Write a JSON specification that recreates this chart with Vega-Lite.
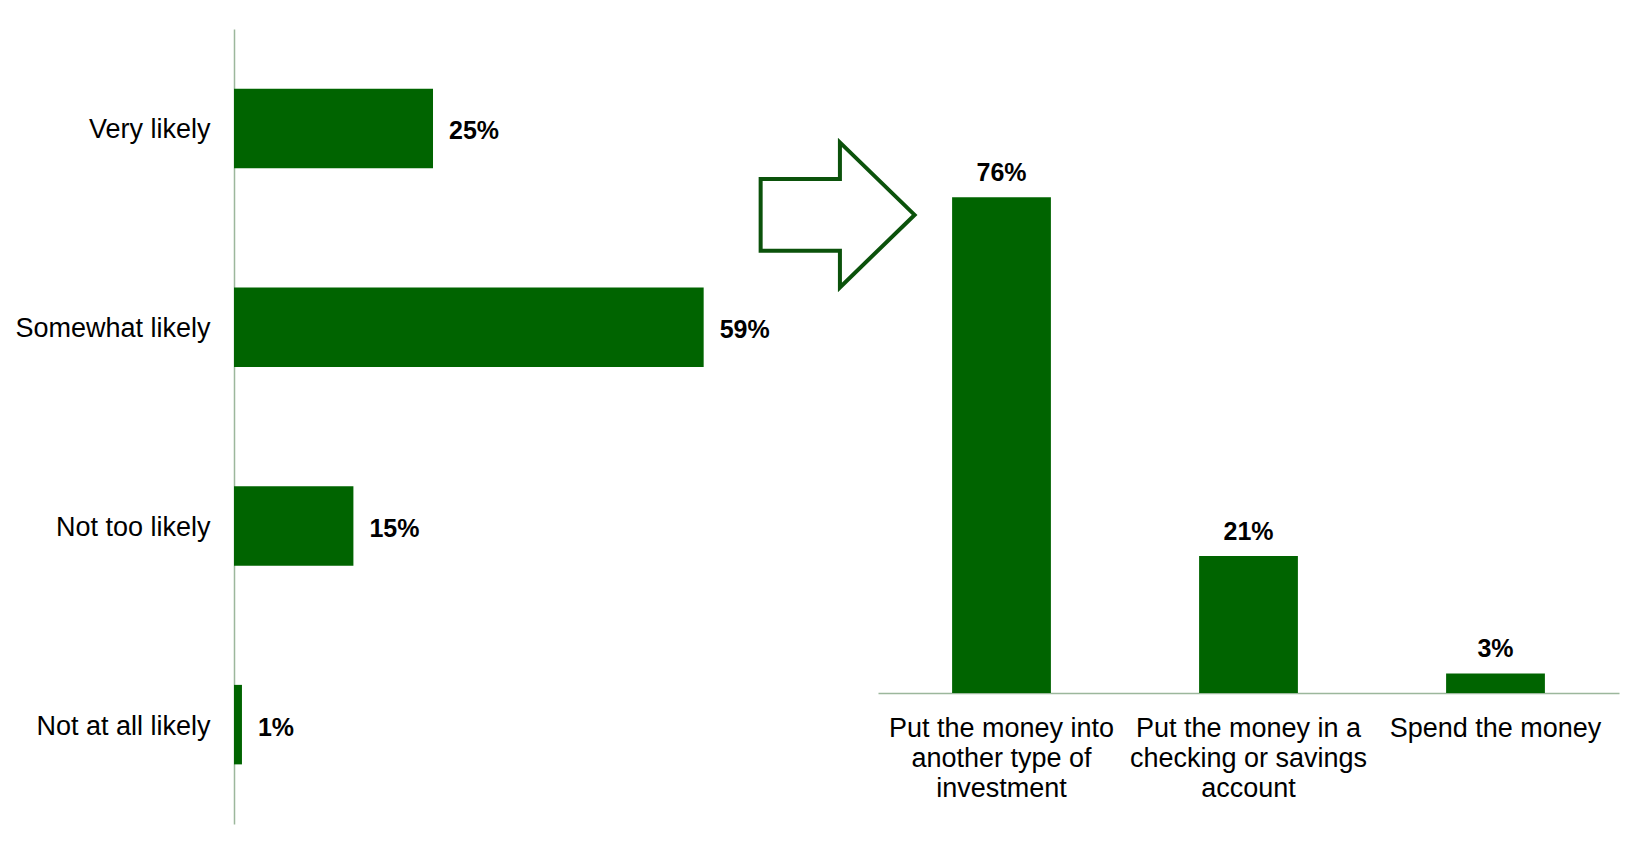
{
  "$schema": "https://vega.github.io/schema/vega-lite/v6.json",
  "background": "white",
  "padding": {"left": 14, "top": 29, "right": 29, "bottom": 38},
  "config": {
    "view": {"stroke": null},
    "font": "Liberation Sans",
    "text": {"font": "Liberation Sans"},
    "concat": {"spacing": 0}
  },
  "bounds": "flush",
  "spacing": 0,
  "hconcat": [
    {
      "width": 644,
      "height": 795,
      "data": {
        "values": [
          {"response": "Very likely", "share": 0.25},
          {"response": "Somewhat likely", "share": 0.59},
          {"response": "Not too likely", "share": 0.15},
          {"response": "Not at all likely", "share": 0.01}
        ]
      },
      "encoding": {
        "y": {
          "field": "response",
          "type": "nominal",
          "sort": null,
          "scale": {"paddingInner": 0.6, "paddingOuter": 0.3},
          "axis": {
            "title": null,
            "ticks": false,
            "labelFontSize": 27,
            "labelFont": "Liberation Sans",
            "labelColor": "black",
            "labelPadding": 24,
            "labelOffset": 2,
            "labelLimit": 400,
            "domainColor": "#9cb79c",
            "domainWidth": 1.5
          }
        },
        "x": {
          "field": "share",
          "type": "quantitative",
          "scale": {"domain": [0, 0.809], "nice": false},
          "axis": null
        }
      },
      "layer": [
        {"mark": {"type": "bar", "color": "#006400"}},
        {
          "mark": {
            "type": "text",
            "align": "left",
            "baseline": "middle",
            "dx": 16,
            "dy": 3,
            "fontSize": 25,
            "fontWeight": "bold",
            "color": "black"
          },
          "encoding": {"text": {"field": "share", "type": "quantitative", "format": ".0%"}}
        }
      ]
    },
    {
      "width": 741,
      "height": 664,
      "layer": [
        {
          "data": {
            "values": [
              {"option": "Put the money into\nanother type of\ninvestment", "share": 0.76},
              {"option": "Put the money in a\nchecking or savings\naccount", "share": 0.21},
              {"option": "Spend the money", "share": 0.03}
            ]
          },
          "encoding": {
            "x": {
              "field": "option",
              "type": "nominal",
              "sort": null,
              "scale": {"paddingInner": 0.6, "paddingOuter": 0.3},
              "axis": {
                "title": null,
                "ticks": false,
                "labelAngle": 0,
                "labelFontSize": 27,
                "labelFont": "Liberation Sans",
                "labelColor": "black",
                "labelPadding": 22,
                "labelLimit": 400,
                "labelLineHeight": 30,
                "labelBaseline": "top",
                "labelExpr": "split(datum.value, '\\n')",
                "domainColor": "#9cb79c",
                "domainWidth": 1.5
              }
            },
            "y": {
              "field": "share",
              "type": "quantitative",
              "scale": {"domain": [0, 1.018], "nice": false},
              "axis": null
            }
          },
          "layer": [
            {"mark": {"type": "bar", "color": "#006400"}},
            {
              "mark": {
                "type": "text",
                "align": "center",
                "baseline": "alphabetic",
                "dy": -16,
                "fontSize": 25,
                "fontWeight": "bold",
                "color": "black"
              },
              "encoding": {"text": {"field": "share", "type": "quantitative", "format": ".0%"}}
            }
          ]
        },
        {
          "data": {"values": [{"pos": -0.0545, "share": 0.733}]},
          "mark": {
            "type": "point",
            "shape": "M-1,-0.465L0.03,-0.465L0.03,-0.942L1,0L0.03,0.942L0.03,0.465L-1,0.465Z",
            "size": 23700,
            "filled": true,
            "fill": "white",
            "stroke": "#0b520b",
            "strokeWidth": 4,
            "opacity": 1,
            "fillOpacity": 1,
            "strokeOpacity": 1
          },
          "encoding": {
            "x": {"field": "pos", "type": "quantitative", "scale": {"domain": [0, 1], "nice": false, "zero": false}, "axis": null},
            "y": {"field": "share", "type": "quantitative", "scale": {"domain": [0, 1.018], "nice": false}, "axis": null}
          }
        }
      ],
      "resolve": {"scale": {"x": "independent"}}
    }
  ]
}
